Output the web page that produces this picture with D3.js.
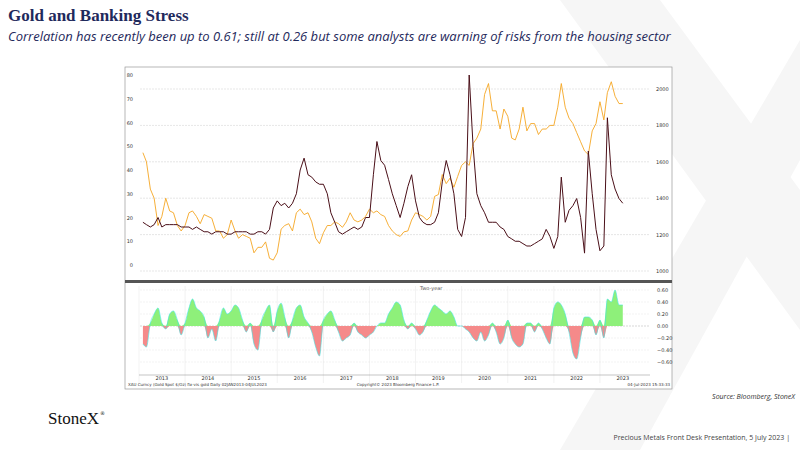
<!DOCTYPE html>
<html><head><meta charset="utf-8">
<script src="https://cdn.jsdelivr.net/npm/d3@7"></script>
<style>body{margin:0;background:#fff}svg{display:block}</style>
</head><body>
<svg id="c" width="800" height="450"></svg>
<script>
// monthly, Feb 2013 .. Jul 2023
var start_month = new Date(2013, 1, 1);
var gold = [1650,1600,1450,1400,1250,1300,1400,1330,1320,1250,1220,
  1250,1320,1330,1300,1260,1310,1300,1290,1220,1220,1180,1200,
  1280,1220,1180,1200,1190,1180,1100,1130,1130,1160,1070,1060,
  1100,1230,1250,1260,1220,1320,1340,1310,1320,1270,1180,1150,
  1210,1250,1250,1270,1260,1240,1270,1320,1280,1270,1280,1300,
  1340,1320,1330,1310,1300,1250,1220,1200,1190,1215,1220,1280,
  1320,1310,1300,1280,1300,1410,1420,1530,1480,1510,1460,1520,
  1580,1600,1580,1700,1730,1780,1970,2030,1880,1880,1780,1890,
  1850,1730,1720,1780,1900,1770,1810,1810,1750,1780,1780,1800,
  1800,1900,2030,1900,1840,1810,1760,1710,1660,1640,1770,1810,
  1930,1830,1980,2040,1960,1920,1920];
var stress = [18,17,16,17,20,16,17,17,17,17,16,
  16,16,15,16,15,14,14,13,14,14,14,13,
  13,14,14,14,14,13,13,14,14,13,15,24,
  27,25,26,24,26,30,40,45,38,37,35,34,
  34,30,22,18,14,13,14,15,16,15,16,20,
  20,38,52,44,42,36,30,25,20,26,33,38,
  27,20,18,17,17,18,22,35,44,38,30,15,
  12,20,80,50,30,25,22,18,18,18,16,15,
  12,11,10,10,9,8,8,9,10,11,15,12,
  7,12,37,18,23,25,28,20,5,48,30,15,
  6,8,62,38,32,28,26];
var corr = [-0.3,-0.35,0.05,0.2,0.3,0.05,-0.05,0.2,0.25,0.1,-0.15,
  0.05,0.3,0.45,0.3,0.25,0.15,-0.2,-0.05,-0.25,0.1,0.3,0.2,
  0.25,0.35,0.3,0.1,-0.1,0.05,-0.3,-0.4,0.1,0.25,0.35,-0.1,
  0.25,0.38,0.15,-0.2,0.1,0.3,0.35,0.15,0.05,-0.1,-0.35,-0.5,
  0.1,0.2,0.25,0.1,-0.1,-0.25,-0.2,-0.15,0.05,-0.1,-0.15,-0.2,
  -0.15,-0.1,0.0,0.05,0.05,0.2,0.3,0.4,0.35,0.1,-0.05,0.05,
  -0.05,-0.15,-0.1,0.1,0.25,0.35,0.3,0.25,0.2,0.25,0.15,0.0,
  0.0,-0.05,-0.1,-0.2,-0.25,-0.1,-0.25,-0.15,0.05,-0.1,-0.3,-0.2,
  0.1,-0.2,-0.3,-0.35,-0.3,0.05,0.05,-0.1,0.05,-0.05,-0.2,-0.3,
  0.3,0.4,0.35,0.2,-0.1,-0.45,-0.55,-0.2,0.15,0.15,0.1,-0.15,
  0.1,-0.2,0.45,0.4,0.6,0.35,0.35];
var years = d3.range(2013, 2024);
var left_ticks = d3.range(0, 90, 10);
var right_ticks = [1000,1200,1400,1600,1800,2000];
var corr_ticks = [-0.6,-0.4,-0.2,0,0.2,0.4,0.6];

var dates = gold.map(function(d, i){ return d3.timeMonth.offset(start_month, i); });
var navy = '#1f2a5c';
var svg = d3.select('#c');

// watermark X
var wm = svg.append('g').attr('fill','#f6f6f6');
wm.append('path').attr('d','M560,0 L660,0 L800,190 L800,330 Z');
wm.append('path').attr('d','M800,40 L800,160 L640,450 L560,450 Z');

svg.append('text').attr('x',8).attr('y',21).attr('fill',navy)
  .style('font','bold 17px "Liberation Serif", serif').text('Gold and Banking Stress');
svg.append('text').attr('x',8).attr('y',41).attr('fill',navy)
  .style('font','italic 13px "Open Sans", sans-serif')
  .text('Correlation has recently been up to 0.61; still at 0.26 but some analysts are warning of risks from the housing sector');

// chart box
svg.append('rect').attr('x',125).attr('y',67).attr('width',547).attr('height',322)
  .attr('fill','#fff').attr('stroke','#999').attr('stroke-width',0.7);

var x = d3.scaleTime().domain([new Date(2013,0,1), new Date(2024,0,1)]).range([139, 646]);
var yl = d3.scaleLinear().domain([0,80]).range([265,75]);
var yr = d3.scaleLinear().domain([1000,2000]).range([271,89]);
var yc = d3.scaleLinear().domain([-0.6,0.6]).range([362,290]);

var small = '5px "DejaVu Sans", sans-serif';
var top_g = svg.append('g');
top_g.selectAll('.hgrid').data(right_ticks).enter().append('line')
  .attr('x1',140).attr('x2',650).attr('y1',yr).attr('y2',yr)
  .attr('stroke','#ccc').attr('stroke-width',0.5).attr('stroke-dasharray','2,1');
top_g.selectAll('.lt').data(left_ticks).enter().append('text')
  .attr('x',133).attr('y',function(d){return yl(d)+2;}).attr('text-anchor','end')
  .style('font',small).attr('fill','#333').text(function(d){return d;});
top_g.selectAll('.rt').data(right_ticks).enter().append('text')
  .attr('x',656).attr('y',function(d){return yr(d)+2;})
  .style('font',small).attr('fill','#333').text(function(d){return d;});

top_g.append('path').datum(gold).attr('fill','none').attr('stroke','#f5a623').attr('stroke-width',0.9)
  .attr('d', d3.line().x(function(d,i){return x(dates[i]);}).y(function(d){return yr(d);}));
top_g.append('path').datum(stress).attr('fill','none').attr('stroke','#4a0f18').attr('stroke-width',1)
  .attr('d', d3.line().x(function(d,i){return x(dates[i]);}).y(function(d){return yl(d);}));

// separator
svg.append('rect').attr('x',125).attr('y',280).attr('width',547).attr('height',3).attr('fill','#555');

// lower panel
var low = svg.append('g');
low.selectAll('.cg').data(corr_ticks).enter().append('line')
  .attr('x1',140).attr('x2',650).attr('y1',yc).attr('y2',yc)
  .attr('stroke',function(d){return d===0?'#999':'#ddd';}).attr('stroke-width',0.4).attr('stroke-dasharray','2,1');
low.selectAll('.vg').data(years).enter().append('line')
  .attr('x1',function(d){return x(new Date(d,0,1));}).attr('x2',function(d){return x(new Date(d,0,1));})
  .attr('y1',286).attr('y2',383).attr('stroke','#ddd').attr('stroke-width',0.4);
var area = d3.area().curve(d3.curveMonotoneX)
  .x(function(d,i){return x(dates[i]);}).y0(yc(0)).y1(function(d){return yc(d);});
low.append('path').datum(corr.map(function(d){return Math.max(d,0);}))
  .attr('fill','#8ef07a').attr('d',area);
low.append('path').datum(corr.map(function(d){return Math.min(d,0);}))
  .attr('fill','#f58a8a').attr('d',area);
low.append('path').datum(corr).attr('fill','none').attr('stroke','#3ee6e6').attr('stroke-width',0.6)
  .attr('d', d3.line().curve(d3.curveMonotoneX).x(function(d,i){return x(dates[i]);}).y(function(d){return yc(d);}));
low.selectAll('.ct').data(corr_ticks).enter().append('text')
  .attr('x',657).attr('y',function(d){return yc(d)+2;})
  .style('font',small).attr('fill','#333').text(function(d){return d3.format('.2f')(d);});
low.append('text').attr('x',420).attr('y',290).style('font',small).attr('fill','#555').text('Two-year');
low.append('line').attr('x1',139).attr('x2',650).attr('y1',375).attr('y2',375).attr('stroke','#888').attr('stroke-width',0.5);
low.selectAll('.yt').data(years).enter().append('text')
  .attr('x',function(d){return x(new Date(d,6,1));}).attr('y',380).attr('text-anchor','middle')
  .style('font',small).attr('fill','#333').text(function(d){return d;});
low.append('text').attr('x',128).attr('y',386).style('font','4px "DejaVu Sans", sans-serif').attr('fill','#333')
  .text('XAU Curncy (Gold Spot   $/Oz) fix-vis gold  Daily 02JAN2013-04JUL2023');
low.append('text').attr('x',398).attr('y',386).attr('text-anchor','middle').style('font','4px "DejaVu Sans", sans-serif').attr('fill','#333')
  .text('Copyright\u00a9 2023 Bloomberg Finance L.P.');
low.append('text').attr('x',670).attr('y',386).attr('text-anchor','end').style('font','4px "DejaVu Sans", sans-serif').attr('fill','#333')
  .text('04-Jul-2023 15:33:33');

svg.append('text').attr('x',795).attr('y',399).attr('text-anchor','end').attr('fill','#333')
  .style('font','italic 7px "Open Sans", sans-serif').text('Source:  Bloomberg,  StoneX');
svg.append('text').attr('x',48).attr('y',424).attr('fill','#111')
  .style('font','17px "Liberation Serif", serif').text('StoneX');
svg.append('text').attr('x',100).attr('y',415).attr('fill','#111')
  .style('font','5px "DejaVu Sans", sans-serif').text('\u00ae');
svg.append('text').attr('x',790).attr('y',440).attr('text-anchor','end').attr('fill','#444')
  .style('font','7px "Open Sans", sans-serif').text('Precious Metals Front Desk Presentation, 5 July 2023 |');
</script>
</body></html>
